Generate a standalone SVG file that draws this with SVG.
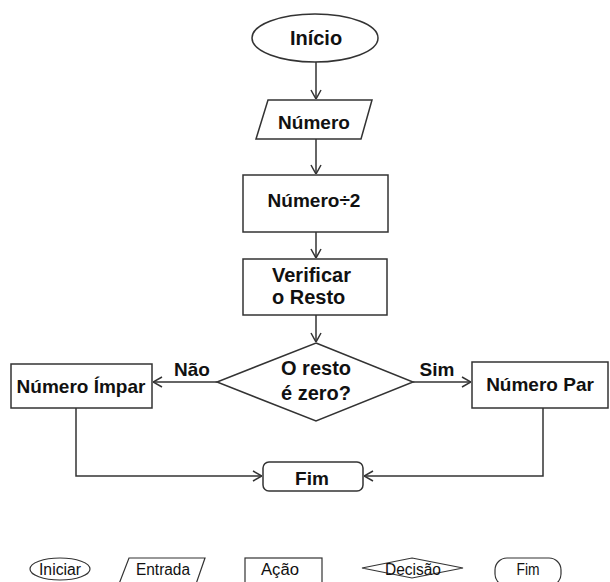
<svg xmlns="http://www.w3.org/2000/svg" width="610" height="582" viewBox="0 0 610 582">
<defs>
<marker id="arr" viewBox="0 0 10 12" refX="10" refY="6" markerWidth="10" markerHeight="12" markerUnits="userSpaceOnUse" orient="auto">
<path d="M1,1 L10,6 L1,11" fill="none" stroke="#333" stroke-width="1.5"/>
</marker>
<style>
.s{fill:#fff;stroke:#333;stroke-width:1.5}
.t{font-family:"Liberation Sans",Arial,sans-serif;font-weight:bold;font-size:19px;fill:#111;text-anchor:middle}
.b{font-size:20px}
.l{font-family:"Liberation Sans",Arial,sans-serif;font-size:16px;fill:#111;text-anchor:middle}
.c{fill:none;stroke:#333;stroke-width:1.5}
.ls{fill:#fff;stroke:#333;stroke-width:1.2}
</style>
</defs>
<rect width="610" height="582" fill="#fff"/>
<g id="connectors">
<line class="c" x1="316" y1="62" x2="316" y2="99" marker-end="url(#arr)"/>
<line class="c" x1="316" y1="139" x2="316" y2="174" marker-end="url(#arr)"/>
<line class="c" x1="316" y1="232" x2="316" y2="258" marker-end="url(#arr)"/>
<line class="c" x1="316" y1="315" x2="316" y2="342" marker-end="url(#arr)"/>
<line class="c" x1="217" y1="382" x2="153" y2="382" marker-end="url(#arr)"/>
<line class="c" x1="413" y1="382" x2="471" y2="382" marker-end="url(#arr)"/>
<polyline class="c" points="76,408 76,476 262,476" marker-end="url(#arr)"/>
<polyline class="c" points="543,408 543,476 364,476" marker-end="url(#arr)"/>
<text class="t" x="192" y="376">Não</text>
<text class="t" x="437" y="376">Sim</text>
</g>
<g id="inicio">
<ellipse class="s" cx="315" cy="38" rx="63" ry="24"/>
<text class="t b" x="316" y="45">Início</text>
</g>
<g id="numero">
<polygon class="s" points="268,100 372,100 361,139 256,139"/>
<text class="t" x="314" y="129">Número</text>
</g>
<g id="dividir">
<rect class="s" x="243" y="175" width="145" height="57"/>
<text class="t" x="314" y="207">Número÷2</text>
</g>
<g id="verificar">
<rect class="s" x="243" y="259" width="144" height="56"/>
<text class="t b" x="272" y="282" style="text-anchor:start">Verificar</text>
<text class="t b" x="272" y="304" style="text-anchor:start">o  Resto</text>
</g>
<g id="decisao">
<polygon class="s" points="316,343 413,382 316,421 217,382"/>
<text class="t b" x="316" y="375">O resto</text>
<text class="t b" x="316" y="400">é zero?</text>
</g>
<g id="impar">
<rect class="s" x="11" y="364" width="141" height="44"/>
<text class="t" x="81" y="393">Número Ímpar</text>
</g>
<g id="par">
<rect class="s" x="472" y="362" width="136" height="46"/>
<text class="t" x="540" y="391">Número Par</text>
</g>
<g id="fim">
<rect class="s" x="263" y="462" width="100" height="29" rx="6"/>
<text class="t" x="312" y="485">Fim</text>
</g>
<g id="legend-iniciar">
<ellipse class="ls" cx="60" cy="569" rx="30" ry="11"/>
<text class="l" x="60" y="575" textLength="42" lengthAdjust="spacingAndGlyphs">Iniciar</text>
</g>
<g id="legend-entrada">
<polygon class="ls" points="129,558 205,558 196,584 119,584"/>
<text class="l" x="163" y="575" textLength="54" lengthAdjust="spacingAndGlyphs">Entrada</text>
</g>
<g id="legend-acao">
<rect class="ls" x="245" y="558" width="77" height="30"/>
<text class="l" x="280" y="575" textLength="38" lengthAdjust="spacingAndGlyphs">Ação</text>
</g>
<g id="legend-decisao">
<polygon class="ls" points="412,558 463,568 412,578 362,568"/>
<text class="l" x="413" y="575" textLength="56" lengthAdjust="spacingAndGlyphs">Decisão</text>
</g>
<g id="legend-fim">
<rect class="ls" x="495" y="558" width="66" height="28" rx="12"/>
<text class="l" x="528" y="575" textLength="23" lengthAdjust="spacingAndGlyphs">Fim</text>
</g>
</svg>
